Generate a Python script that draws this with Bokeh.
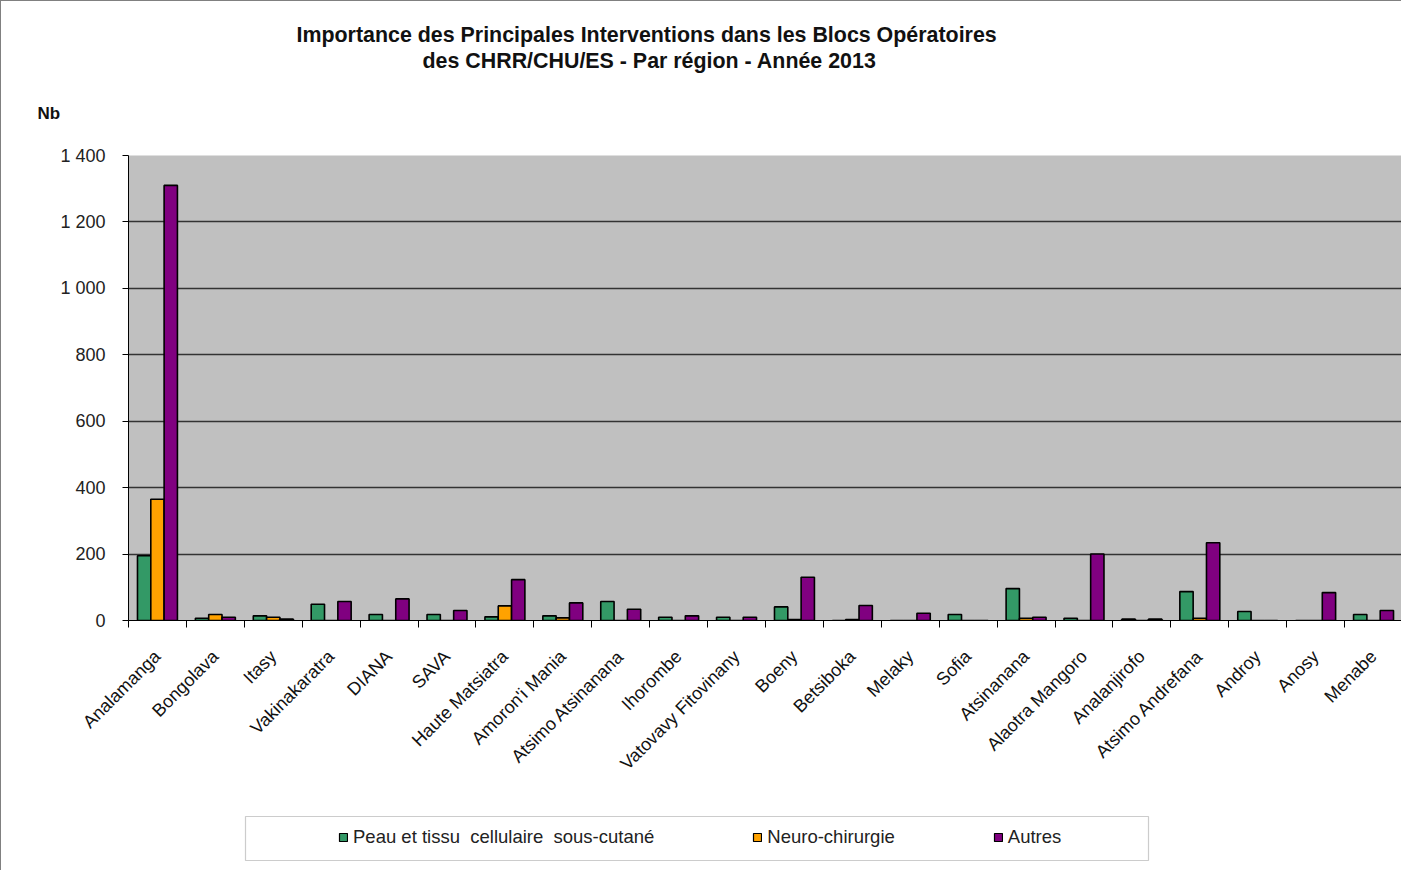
import numpy as np
from math import pi
from bokeh.plotting import figure
from bokeh.layouts import column
from bokeh.models import (Range1d, FixedTicker, CustomJSTickFormatter, Title, Legend,
                          LegendItem, ColumnDataSource, BoxAnnotation)
from bokeh.transform import dodge
from bokeh.embed import file_html
from bokeh.resources import INLINE

regions = ["Analamanga", "Bongolava", "Itasy", "Vakinakaratra", "DIANA", "SAVA",
           "Haute Matsiatra", "Amoron'i Mania", "Atsimo Atsinanana", "Ihorombe",
           "Vatovavy Fitovinany", "Boeny", "Betsiboka", "Melaky", "Sofia", "Atsinanana",
           "Alaotra Mangoro", "Analanjirofo", "Atsimo Andrefana", "Androy", "Anosy", "Menabe"]
peau = [195, 7, 14, 49, 18, 18, 11, 14, 57, 10, 10, 41, 0, 0, 18, 96, 7, 4, 87, 27, 0, 18]
neuro = [365, 18, 10, 0, 0, 0, 44, 8, 0, 0, 0, 3, 3, 0, 0, 7, 0, 0, 7, 0, 0, 0]
autres = [1310, 10, 4, 57, 65, 30, 123, 53, 34, 14, 10, 130, 45, 22, 0, 10, 200, 4, 234, 0, 84, 30]
series_names = ["Peau et tissu  cellulaire  sous-cutané", "Neuro-chirurgie", "Autres"]
y_ticks = [0, 200, 400, 600, 800, 1000, 1200, 1400]
y_tick_labels = ["0", "200", "400", "600", "800", "1 000", "1 200", "1 400"]
title_lines = ["Importance des Principales Interventions dans les Blocs Opératoires",
               "des CHRR/CHU/ES - Par région -  Année 2013"]
y_label = "Nb"

colors = ["#339966", "#FFA200", "#800080"]
FONT = "Liberation Sans"
BORDER = "1px solid #808080"

n = len(regions)
idx = np.arange(n)
src = ColumnDataSource(dict(center=idx + 0.5, peau=peau, neuro=neuro, autres=autres))
cols = ["peau", "neuro", "autres"]
bw = 0.23
offsets = [-bw, 0, bw]

p = figure(width=1401, height=800, x_range=Range1d(0, n), y_range=Range1d(0, 1400),
           output_backend="svg", toolbar_location=None,
           min_border_left=127, min_border_right=0, min_border_top=154, min_border_bottom=181)
p.background_fill_color = "#C0C0C0"
p.border_fill_color = "white"
p.outline_line_color = None
p.styles = {"border-left": BORDER, "border-top": BORDER}

for col, off, c in zip(cols, offsets, colors):
    p.vbar(x=dodge("center", off), top=col, width=bw, bottom=0, source=src,
           fill_color=c, line_color="black", line_width=1.6)

# axes
p.xaxis.ticker = FixedTicker(ticks=list(idx + 0.5), minor_ticks=[float(i) for i in range(n + 1)])
p.xaxis.formatter = CustomJSTickFormatter(args=dict(names=regions),
                                          code="return names[Math.floor(tick)];")
p.xaxis.major_label_orientation = pi / 4
p.xaxis.major_tick_out = 0
p.xaxis.major_tick_in = 0
p.xaxis.minor_tick_out = 7
p.xaxis.minor_tick_in = 0
p.xaxis.minor_tick_line_color = "black"
p.xaxis.axis_line_color = "black"
p.xaxis.major_label_standoff = 26
p.xaxis.major_label_text_font = FONT
p.xaxis.major_label_text_font_size = "18px"
p.xaxis.major_label_text_color = "#111111"

p.yaxis.ticker = FixedTicker(ticks=y_ticks)
p.yaxis.formatter = CustomJSTickFormatter(args=dict(vals=y_ticks, labs=y_tick_labels),
                                          code="return labs[vals.indexOf(tick)];")
p.yaxis.major_tick_out = 6
p.yaxis.major_tick_in = 0
p.yaxis.minor_tick_out = 0
p.yaxis.minor_tick_in = 0
p.yaxis.axis_line_color = "black"
p.yaxis.major_tick_line_color = "black"
p.yaxis.major_label_standoff = 17
p.yaxis.major_label_text_font = FONT
p.yaxis.major_label_text_font_size = "18px"
p.yaxis.major_label_text_color = "#222222"

p.xgrid.visible = False
p.ygrid.ticker = FixedTicker(ticks=y_ticks)
p.ygrid.grid_line_color = "#333333"
p.ygrid.grid_line_width = 1.4

# titles (stacked above the frame; first added is nearest to the frame)
p.add_layout(Title(text=y_label, align="left", offset=-91, vertical_align="top",
                   standoff=61, text_font=FONT, text_font_size="17px",
                   text_font_style="bold", text_color="#111111"), "above")
p.add_layout(Title(text=title_lines[1], align="left", offset=294, vertical_align="middle",
                   standoff=0, text_font=FONT, text_font_size="21.4px",
                   text_font_style="bold", text_color="#111111"), "above")
p.add_layout(Title(text=title_lines[0], align="left", offset=168, vertical_align="middle",
                   standoff=0, text_font=FONT, text_font_size="21.4px",
                   text_font_style="bold", text_color="#111111"), "above")

# legend strip below the chart (its frame is aligned with the chart frame)
p2 = figure(width=1401, height=70, x_range=Range1d(0, n), y_range=Range1d(0, 1400),
            output_backend="svg", toolbar_location=None, min_border=0,
            x_axis_type=None, y_axis_type=None)
p2.outline_line_color = None
p2.background_fill_color = "white"
p2.border_fill_color = "white"
p2.grid.visible = False
p2.styles = {"border-left": BORDER}

# legend keys: hidden copies of the series (only their legend swatches are shown)
proxies = [p2.vbar(x=dodge("center", off), top=col, width=bw, bottom=0, source=src,
                   fill_color=c, line_color="black", line_width=1.2, visible=False)
           for col, off, c in zip(cols, offsets, colors)]
p2.add_layout(BoxAnnotation(left=117, right=1020, top=54, bottom=10,
                            left_units="screen", right_units="screen",
                            top_units="screen", bottom_units="screen",
                            fill_alpha=0, line_color="#555555", line_width=1.2))
legend = Legend(items=[LegendItem(label=nm, renderers=[r]) for nm, r in zip(series_names, proxies)],
                location=(210, 22), orientation="horizontal", spacing=98, padding=0, margin=0,
                border_line_color=None, background_fill_alpha=0, inactive_fill_alpha=0,
                glyph_width=10, glyph_height=10, label_standoff=5, label_height=20,
                label_text_font=FONT, label_text_font_size="18.5px", label_text_color="#222222")
p2.add_layout(legend)

layout = column(p, p2, spacing=0)
open("out.html", "w").write(file_html(layout, INLINE))
